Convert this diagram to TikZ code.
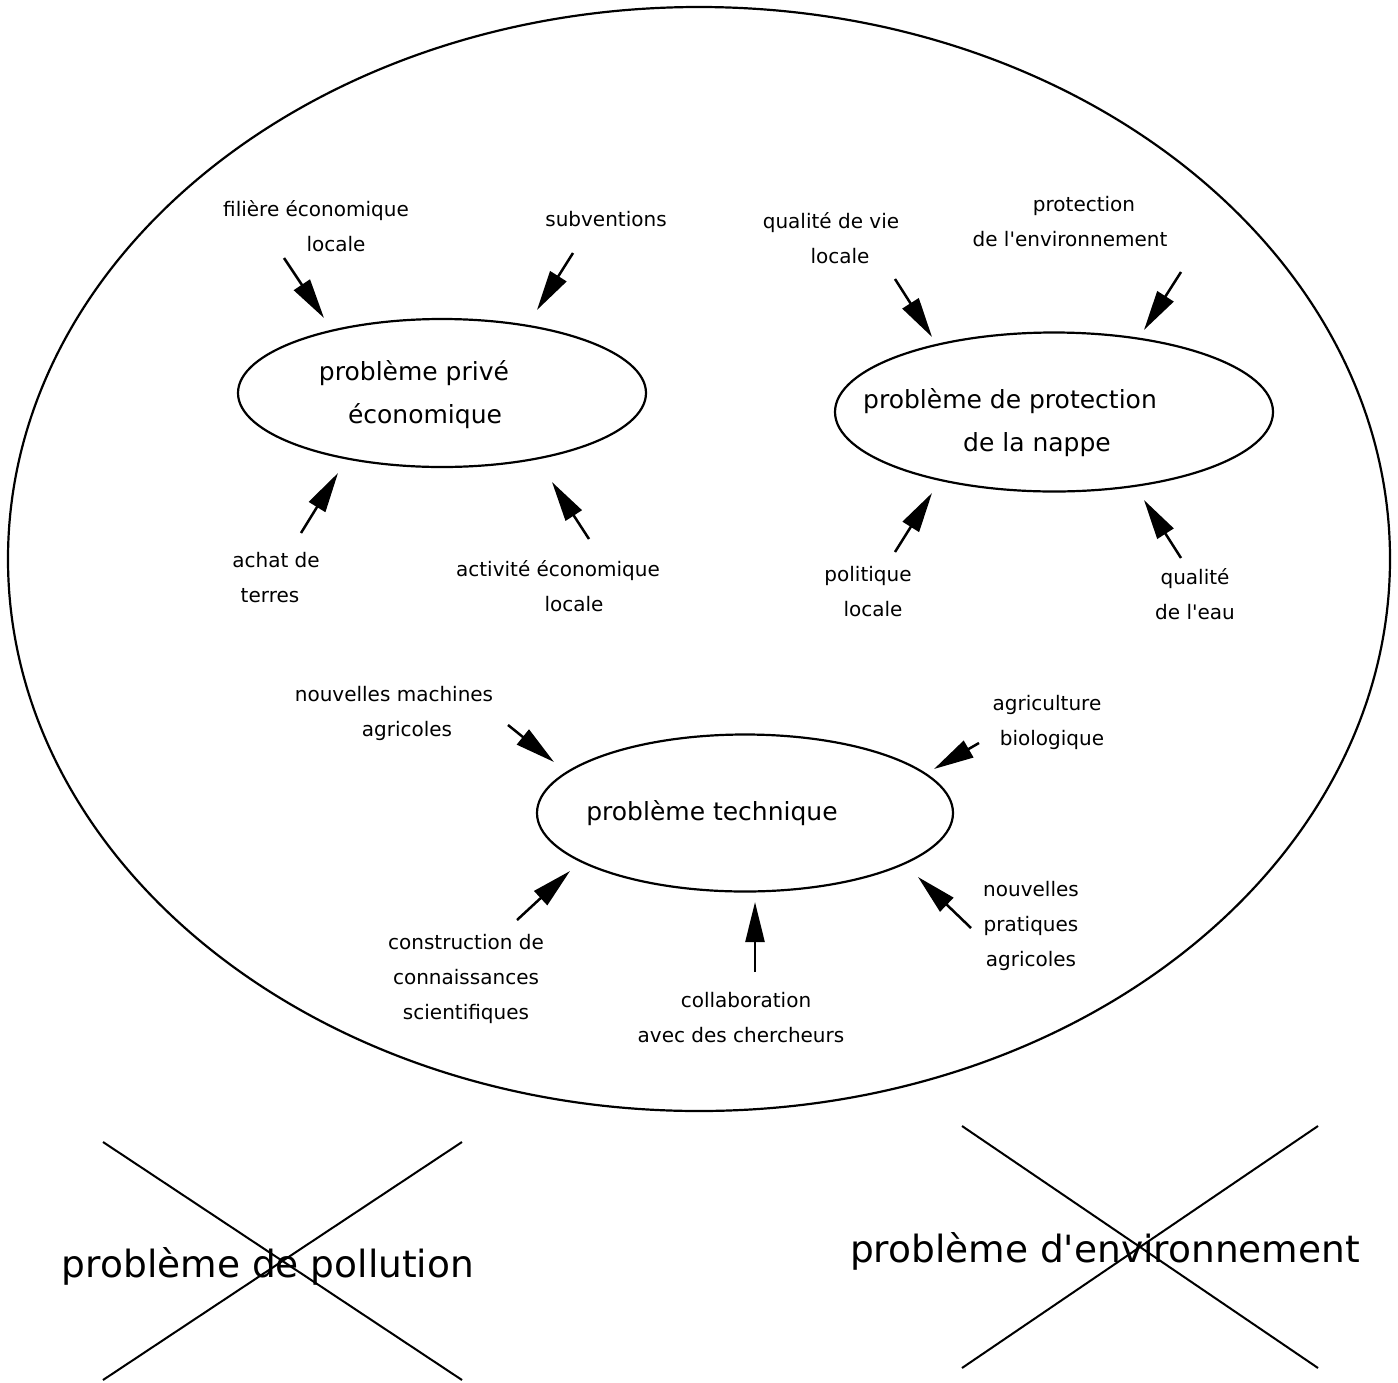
\documentclass[tikz,border=0pt]{standalone}
\usepackage{fontspec}
\setmainfont{DejaVu Sans}[Ligatures=TeXOff]
\usetikzlibrary{shapes.geometric,arrows.meta}
\begin{document}
\begin{tikzpicture}[x=1pt,y=-1pt,
  lab/.style={font=\fontsize{20}{35}\selectfont, align=center, inner sep=0pt},
  mid/.style={font=\fontsize{25}{43}\selectfont, align=center, inner sep=0pt},
  big/.style={font=\fontsize{37.5}{45}\selectfont, inner sep=0pt},
  oval/.style={ellipse, draw, line width=2.2pt, inner sep=0pt, outer sep=0pt},
  arr/.style={line width=2.5pt, -{Triangle[length=40pt,width=19pt]}},
  cross/.style={line width=2pt}]
\useasboundingbox (0,0) rectangle (1398,1382);

% outer ellipse
\node[oval, minimum width=1382pt, minimum height=1104pt] (world) at (699,559) {};

% inner ellipses
\node[oval, minimum width=408pt, minimum height=148pt] (e1) at (442,393) {};
\node[oval, minimum width=438pt, minimum height=159pt] (e2) at (1054,412) {};
\node[oval, minimum width=416pt, minimum height=157pt] (e3) at (745,813) {};

\node[mid] (t1) at (414,395) {problème privé\\\hspace*{22pt}économique};
\node[mid] (t2) at (1010,423) {problème de protection\\\hspace*{54pt}de la nappe};
\node[mid] (t3) at (712,813) {problème technique};

% labels
\node[lab] (l1) at (316,226) {filière économique\\\hspace*{40pt}locale};
\node[lab] (l2) at (606,219) {subventions};
\node[lab] (l3) at (831,238) {qualité de vie\\\hspace*{18pt}locale};
\node[lab] (l4) at (1070,222) {\hspace*{28pt}protection\\de l'environnement};
\node[lab] (l5) at (276,578) {achat de\\terres\hspace*{12pt}};
\node[lab] (l6) at (558,586) {activité économique\\\hspace*{32pt}locale};
\node[lab] (l7) at (868,592) {politique\\\hspace*{10pt}locale};
\node[lab] (l8) at (1195,594) {qualité\\de l'eau};
\node[lab] (l9) at (394,713) {nouvelles machines\\\hspace*{26pt}agricoles};
\node[lab] (l10) at (1047,722) {agriculture\\\hspace*{10pt}biologique};
\node[lab] (l11) at (466,979) {construction de\\connaissances\\scientifiques};
\node[lab] (l12) at (741,1018) {\hspace*{10pt}collaboration\\avec des chercheurs};
\node[lab] (l13) at (1031,926) {nouvelles\\pratiques\\agricoles};

% arrow coordinates
\coordinate (s1) at (284,258);  \coordinate (p1) at (324,318);
\coordinate (s2) at (573,253);  \coordinate (p2) at (537,310);
\coordinate (s3) at (895,279);  \coordinate (p3) at (932,337);
\coordinate (s4) at (1181,272); \coordinate (p4) at (1144,330);
\coordinate (s5) at (301,533);  \coordinate (p5) at (338,473);
\coordinate (s6) at (589,539);  \coordinate (p6) at (552,482);
\coordinate (s7) at (895,552);  \coordinate (p7) at (932,493);
\coordinate (s8) at (1181,558); \coordinate (p8) at (1144,500);
\coordinate (s9) at (508,725);  \coordinate (p9) at (554,762);
\coordinate (s10) at (979,743); \coordinate (p10) at (934,769);
\coordinate (s11) at (517,920); \coordinate (p11) at (570,871);
\coordinate (s12) at (755,972); \coordinate (p12) at (755,902);
\coordinate (s13) at (971,928); \coordinate (p13) at (918,877);

\foreach \i in {1,...,13} { \draw[arr] (s\i) -- (p\i); }

% crossed-out problems
\node[big] (pol) at (268,1266) {problème de pollution};
\node[big] (env) at (1105,1251) {problème d'environnement};
\coordinate (a1) at (103,1142); \coordinate (a2) at (462,1142);
\coordinate (a3) at (103,1380); \coordinate (a4) at (462,1380);
\draw[cross] (a1) -- (a4);
\draw[cross] (a2) -- (a3);
\coordinate (b1) at (962,1126); \coordinate (b2) at (1318,1126);
\coordinate (b3) at (962,1368); \coordinate (b4) at (1318,1368);
\draw[cross] (b1) -- (b4);
\draw[cross] (b2) -- (b3);
\end{tikzpicture}
\end{document}
